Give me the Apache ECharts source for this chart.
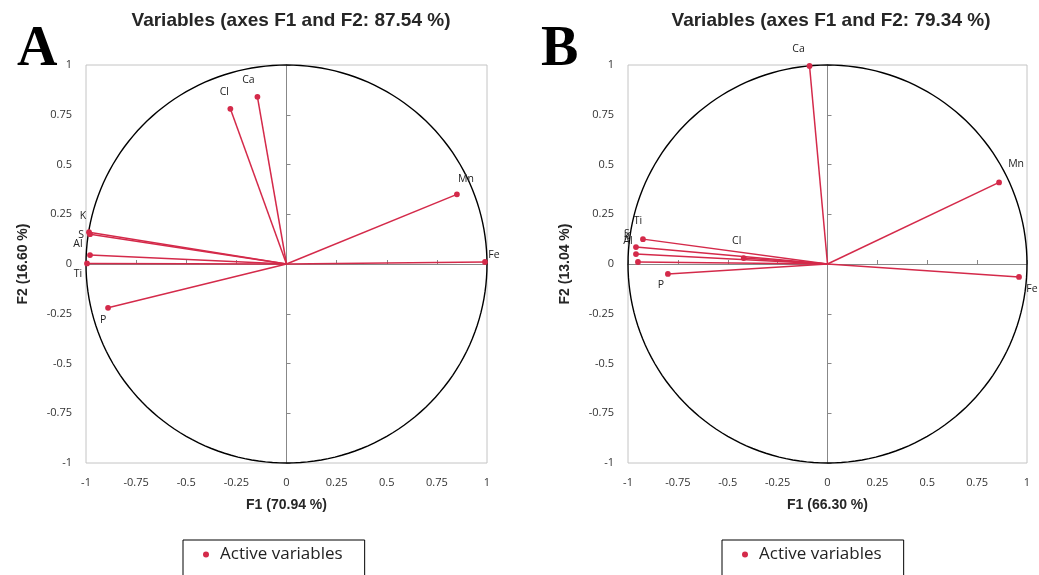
<!DOCTYPE html>
<html><head><meta charset="utf-8">
<script src="https://cdn.jsdelivr.net/npm/echarts@6/dist/echarts.min.js"></script>
<style>html,body{margin:0;padding:0;background:#fff}#c{width:1039px;height:575px}</style>
</head><body><div id="c"></div>
<script>
// ---- data ----
const titleA = 'Variables (axes F1 and F2: 87.54 %)';
const titleB = 'Variables (axes F1 and F2: 79.34 %)';
const xNameA = 'F1 (70.94 %)';
const yNameA = 'F2 (16.60 %)';
const xNameB = 'F1 (66.30 %)';
const yNameB = 'F2 (13.04 %)';
const varsA = ['K', 'S', 'Al', 'Ti', 'P', 'Cl', 'Ca', 'Mn', 'Fe'];
const f1A = [-0.985, -0.98, -0.98, -0.995, -0.89, -0.28, -0.145, 0.85, 0.99];
const f2A = [0.16, 0.15, 0.045, 0.003, -0.22, 0.78, 0.84, 0.35, 0.01];
const varsB = ['Ti', 'S', 'K', 'Al', 'P', 'Cl', 'Ca', 'Mn', 'Fe'];
const f1B = [-0.925, -0.96, -0.96, -0.95, -0.80, -0.42, -0.09, 0.86, 0.96];
const f2B = [0.125, 0.085, 0.05, 0.01, -0.05, 0.03, 0.995, 0.41, -0.065];
const tickMin = -1, tickMax = 1, tickStep = 0.25;
const legendName = 'Active variables';

// ---- label placement (style only) ----
const labOffA = {K:[-6,-16], S:[-9,1], Al:[-12,-11], Ti:[-9,11], P:[-5,12], Cl:[-6,-17], Ca:[-9,-17], Mn:[9,-15], Fe:[9,-7]};
const labOffB = {Ti:[-5,-18], S:[-9,-13], K:[-9,-17], Al:[-10,-21], P:[-7,11], Cl:[-7,-17], Ca:[-11,-17], Mn:[17,-18], Fe:[13,12]};

const RED = '#d42a4a';
const chart = echarts.init(document.getElementById('c'));

function fmt(v){ return String(Math.round(v*100)/100); }

function circleSeries(xi){
  return {
    type:'custom', xAxisIndex:xi, yAxisIndex:xi, silent:true, z:1,
    data:[[0,0]],
    renderItem:function(params, api){
      const pts = [];
      for (let a=0; a<=360; a+=2){
        const r = a*Math.PI/180;
        pts.push(api.coord([Math.cos(r), Math.sin(r)]));
      }
      return {type:'polyline', shape:{points:pts}, style:{stroke:'#000', lineWidth:1.4, fill:null}};
    }
  };
}

function varSeries(xi, names, f1, f2, offs){
  return {
    type:'custom', name:legendName, xAxisIndex:xi, yAxisIndex:xi, z:3,
    itemStyle:{color:RED},
    data: names.map((n,i)=>({value:[f1[i], f2[i]], name:n})),
    renderItem:function(params, api){
      const o = api.coord([0,0]);
      const p = api.coord([api.value(0), api.value(1)]);
      const n = names[params.dataIndex];
      const off = offs[n] || [0,-12];
      return {type:'group', children:[
        {type:'line', shape:{x1:o[0], y1:o[1], x2:p[0], y2:p[1]}, style:{stroke:RED, lineWidth:1.5}},
        {type:'circle', shape:{cx:p[0], cy:p[1], r:2.9}, style:{fill:RED}},
        {type:'text', style:{text:n, x:p[0]+off[0], y:p[1]+off[1], fill:'#222', font:'10.5px "Open Sans"', align:'center', verticalAlign:'middle'}}
      ]};
    }
  };
}

function axesFor(gi, xName, yName){
  const xs = [
    {type:'value', gridIndex:gi, min:tickMin, max:tickMax, interval:tickStep, name:xName, nameLocation:'middle', nameGap:35,
     nameTextStyle:{fontFamily:'Liberation Sans', fontWeight:'bold', fontSize:14, color:'#262626'},
     axisLine:{show:false}, axisTick:{show:false}, splitLine:{show:false},
     axisLabel:{formatter:fmt, margin:14, fontFamily:'Open Sans', fontSize:11, color:'#333'}},
    {type:'value', gridIndex:gi, min:tickMin, max:tickMax, interval:tickStep,
     axisLine:{show:true, onZero:true, onZeroAxisIndex:gi*2, lineStyle:{color:'#888', width:1}},
     axisTick:{show:true, length:4, lineStyle:{color:'#888'}}, axisLabel:{show:false}, splitLine:{show:false}}
  ];
  const ys = [
    {type:'value', gridIndex:gi, min:tickMin, max:tickMax, interval:tickStep, name:yName, nameLocation:'middle', nameGap:56, nameRotate:90,
     nameTextStyle:{fontFamily:'Liberation Sans', fontWeight:'bold', fontSize:14, color:'#262626'},
     axisLine:{show:false}, axisTick:{show:false}, splitLine:{show:false},
     axisLabel:{formatter:fmt, margin:14, fontFamily:'Open Sans', fontSize:11, color:'#333'}},
    {type:'value', gridIndex:gi, min:tickMin, max:tickMax, interval:tickStep,
     axisLine:{show:true, onZero:true, onZeroAxisIndex:gi*2, lineStyle:{color:'#888', width:1}},
     axisTick:{show:true, length:4, lineStyle:{color:'#888'}}, axisLabel:{show:false}, splitLine:{show:false}}
  ];
  return {xs, ys};
}

const aA = axesFor(0, xNameA, yNameA);
const aB = axesFor(1, xNameB, yNameB);

const legendBase = {data:[legendName], top:540, itemWidth:6, itemHeight:6, icon:'circle', itemGap:0,
  borderColor:'#000', borderWidth:1, padding:[6,22,14,20], borderRadius:0,
  textStyle:{fontFamily:'Open Sans', fontSize:17, color:'#222', padding:[0,0,0,6]}};

const option = {
  animation:false,
  backgroundColor:'#fff',
  title:[
    {text:titleA, left:286, top:6, textAlign:'center', textStyle:{fontFamily:'Liberation Sans', fontWeight:'bold', fontSize:19, color:'#262626'}},
    {text:titleB, left:826, top:6, textAlign:'center', textStyle:{fontFamily:'Liberation Sans', fontWeight:'bold', fontSize:19, color:'#262626'}},
    {text:'A', left:12, top:18, textStyle:{fontFamily:'Liberation Serif', fontWeight:'bold', fontSize:56, color:'#000'}},
    {text:'B', left:536, top:18, textStyle:{fontFamily:'Liberation Serif', fontWeight:'bold', fontSize:56, color:'#000'}}
  ],
  grid:[
    {left:86, top:65, width:401, height:398, show:true, borderColor:'#c4c4c4', borderWidth:1, backgroundColor:'transparent'},
    {left:628, top:65, width:399, height:398, show:true, borderColor:'#c4c4c4', borderWidth:1, backgroundColor:'transparent'}
  ],
  xAxis:[aA.xs[0], aA.xs[1], aB.xs[0], aB.xs[1]],
  yAxis:[aA.ys[0], aA.ys[1], aB.ys[0], aB.ys[1]],
  legend:[
    Object.assign({left:183}, legendBase),
    Object.assign({left:722}, legendBase)
  ],
  series:[
    circleSeries(0),
    varSeries(0, varsA, f1A, f2A, labOffA),
    circleSeries(2),
    varSeries(2, varsB, f1B, f2B, labOffB)
  ]
};
chart.setOption(option);
</script></body></html>
